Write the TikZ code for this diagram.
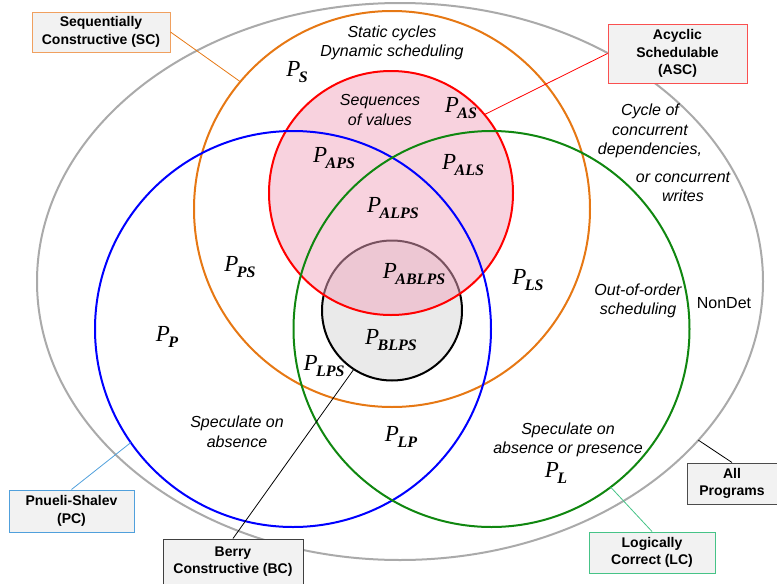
\documentclass[tikz,border=0pt]{standalone}
\usepackage{fontspec}
\setmainfont{Liberation Sans}
\newfontfamily\serifP{Liberation Serif}
\usetikzlibrary{shapes.geometric}

\definecolor{allgray}{RGB}{170,170,170}
\definecolor{scorange}{RGB}{230,120,20}
\definecolor{pcblue}{RGB}{0,0,255}
\definecolor{lcgreen}{RGB}{16,135,16}
\definecolor{ascpink}{RGB}{241,165,190}
\definecolor{bcgray}{RGB}{234,234,234}
\definecolor{sctag}{RGB}{240,160,95}
\definecolor{asctag}{RGB}{250,80,80}
\definecolor{pctag}{RGB}{80,160,220}
\definecolor{lctag}{RGB}{70,195,135}

% P with a bold subscript
\newcommand{\Pset}[1]{{\serifP\itshape\fontsize{23}{23}\selectfont P\kern-1.5pt\raisebox{-6.5pt}{\fontsize{16}{16}\selectfont\bfseries #1}}}

\begin{document}
\begin{tikzpicture}[x=1pt,y=-1pt,line width=2pt]
  \tikzstyle{setring}=[inner sep=0pt,outer sep=0pt]
  \tikzstyle{tagbox}=[draw,fill=gray!10,line width=1pt,inner sep=0pt,align=center,
                      font=\fontsize{14}{17.5}\selectfont\bfseries]
  \tikzstyle{remark}=[align=center,font=\fontsize{16}{19.5}\selectfont\itshape]
  \tikzstyle{tagline}=[line width=0.8pt]

  \useasboundingbox (0,0) rectangle (777,584);

  % the sets
  \node[setring,ellipse,draw=allgray,minimum width=726,minimum height=557] (all) at (400,281.5) {};
  \node[setring,circle,draw=scorange,minimum size=396] (sc) at (392,209) {};
  \node[setring,circle,draw=black,fill=bcgray,minimum size=140] (bc) at (392,310.5) {};
  \node[setring,circle,draw=red,fill=ascpink,fill opacity=0.5,minimum size=244] (asc) at (391,193) {};
  \node[setring,circle,draw=pcblue,minimum size=396] (pc) at (293,329) {};
  \node[setring,circle,draw=lcgreen,minimum size=396] (lc) at (491.5,329) {};

  % region names
  \node (ps)    at (297,72)  {\Pset{S}};
  \node (pas)   at (461,108) {\Pset{AS}};
  \node (paps)  at (334,158) {\Pset{APS}};
  \node (pals)  at (463,165) {\Pset{ALS}};
  \node (palps) at (393,208) {\Pset{ALPS}};
  \node (pps)   at (240,267) {\Pset{PS}};
  \node (pablps) at (414,274) {\Pset{ABLPS}};
  \node (pls)   at (528,280) {\Pset{LS}};
  \node (pp)    at (167,337) {\Pset{P}};
  \node (pblps) at (391,340) {\Pset{BLPS}};
  \node (plps)  at (324,366) {\Pset{LPS}};
  \node (plp)   at (401,437) {\Pset{LP}};
  \node (pl)    at (556,473) {\Pset{L}};

  % remarks
  \node[remark] (static)  at (392,43)  {Static cycles\\Dynamic scheduling};
  \node[remark] (seq)     at (380,110) {Sequences\\of values};
  \node[remark] (cycle)   at (650,131) {Cycle of\\concurrent\\dependencies,};
  \node[remark] (writes)  at (683,187) {or concurrent\\writes};
  \node[remark] (ooo)     at (638,301) {Out-of-order\\scheduling};
  \node[font=\fontsize{16}{18}\selectfont] (nondet) at (724,303) {NonDet};
  \node[remark] (specabs) at (237,432) {Speculate on\\absence};
  \node[remark] (specboth) at (568,440) {Speculate on\\absence or presence};

  % tags
  \node[tagbox,draw=sctag,minimum width=138,minimum height=40] (sctag) at (101,32) {Sequentially\\Constructive (SC)};
  \node[tagbox,draw=asctag,minimum width=139,minimum height=59] (asctag) at (677.5,53.5) {Acyclic\\Schedulable\\(ASC)};
  \node[tagbox,draw=pctag,minimum width=125,minimum height=42] (pctag) at (71.5,511) {Pnueli-Shalev\\(PC)};
  \node[tagbox,draw=black!75,minimum width=140,minimum height=45] (bctag) at (233,561.5) {Berry\\Constructive (BC)};
  \node[tagbox,draw=lctag,minimum width=126,minimum height=41] (lctag) at (652,552.5) {Logically\\Correct (LC)};
  \node[tagbox,draw=black!70,minimum width=90,minimum height=41] (alltag) at (732,483.5) {All\\Programs};

  \draw[tagline,scorange] (sctag.east)  -- (sc.140);
  \draw[tagline,red]      (asctag.west) -- (asc.40);
  \draw[tagline,pctag]    (pctag.north) -- (pc.215);
  \draw[tagline,black]    (bctag.north) -- (bc.237);
  \draw[tagline,lctag]    (lctag.north) -- (lc.307);
  \draw[tagline,black]    (alltag.north) -- (all.332);
\end{tikzpicture}
\end{document}
